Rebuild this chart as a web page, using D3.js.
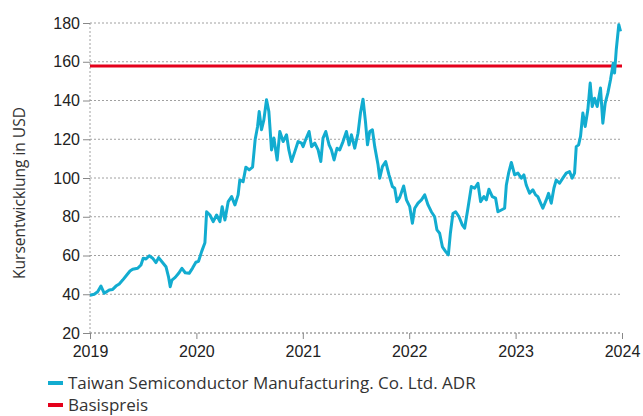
<!DOCTYPE html>
<html>
<head>
<meta charset="utf-8">
<script src="https://cdn.jsdelivr.net/npm/d3@7"></script>
<style>
	body { margin: 0; background: #fff; }
	svg { display: block; }
</style>
</head>
<body>
<svg id="chart"></svg>
<script>
// values (time as decimal year)
const years = [
	2019.000, 2019.040, 2019.072, 2019.103, 2019.134, 2019.181, 2019.213, 2019.244, 2019.275, 2019.307,
	2019.338, 2019.376, 2019.401, 2019.448, 2019.479, 2019.500, 2019.526, 2019.557, 2019.589, 2019.620,
	2019.645, 2019.676, 2019.714, 2019.739, 2019.754, 2019.770, 2019.801, 2019.833, 2019.864, 2019.895,
	2019.932, 2019.964, 2019.995, 2020.020, 2020.049, 2020.080, 2020.096, 2020.127, 2020.158, 2020.190,
	2020.221, 2020.242, 2020.268, 2020.299, 2020.331, 2020.362, 2020.392, 2020.408, 2020.439, 2020.465,
	2020.496, 2020.528, 2020.552, 2020.575, 2020.590, 2020.612, 2020.634, 2020.659, 2020.681, 2020.706,
	2020.728, 2020.759, 2020.784, 2020.815, 2020.847, 2020.869, 2020.894, 2020.925, 2020.956, 2020.988,
	2021.003, 2021.028, 2021.059, 2021.082, 2021.113, 2021.144, 2021.169, 2021.190, 2021.216, 2021.247,
	2021.269, 2021.294, 2021.322, 2021.347, 2021.378, 2021.410, 2021.435, 2021.457, 2021.488, 2021.519,
	2021.542, 2021.566, 2021.589, 2021.608, 2021.629, 2021.654, 2021.676, 2021.707, 2021.723, 2021.748,
	2021.779, 2021.810, 2021.842, 2021.864, 2021.885, 2021.911, 2021.948, 2021.974, 2022.005, 2022.030,
	2022.052, 2022.083, 2022.115, 2022.146, 2022.177, 2022.208, 2022.239, 2022.261, 2022.286, 2022.312,
	2022.343, 2022.368, 2022.387, 2022.411, 2022.437, 2022.468, 2022.500, 2022.521, 2022.552, 2022.584,
	2022.615, 2022.646, 2022.671, 2022.702, 2022.725, 2022.749, 2022.781, 2022.812, 2022.834, 2022.866,
	2022.897, 2022.913, 2022.934, 2022.960, 2022.991, 2023.022, 2023.054, 2023.078, 2023.100, 2023.131,
	2023.162, 2023.188, 2023.209, 2023.235, 2023.256, 2023.288, 2023.310, 2023.335, 2023.360, 2023.382,
	2023.413, 2023.444, 2023.476, 2023.507, 2023.532, 2023.554, 2023.570, 2023.592, 2023.610, 2023.632,
	2023.654, 2023.679, 2023.701, 2023.720, 2023.742, 2023.767, 2023.798, 2023.820, 2023.842, 2023.867,
	2023.892, 2023.918, 2023.930, 2023.946, 2023.970, 2023.986
];
const prices = [
	39.5, 40.0, 41.3, 44.2, 40.5, 42.2, 42.5, 44.2, 45.3, 47.3,
	49.4, 52.0, 52.9, 53.4, 55.1, 58.6, 58.2, 59.9, 58.6, 56.3,
	58.9, 56.8, 54.2, 48.7, 43.9, 47.3, 48.7, 50.8, 53.4, 51.1,
	50.8, 53.5, 56.5, 57.0, 62.0, 66.6, 82.6, 80.9, 77.5, 80.9,
	77.5, 85.2, 78.3, 87.8, 90.4, 86.1, 91.3, 99.0, 98.1, 105.6,
	104.2, 105.6, 119.7, 126.6, 134.3, 124.9, 130.0, 140.4, 134.3, 114.5,
	120.6, 109.3, 124.0, 118.8, 122.3, 114.5, 108.5, 113.6, 118.8, 118.0,
	116.2, 120.0, 124.0, 116.2, 118.0, 114.5, 108.5, 120.6, 124.0, 117.1,
	114.5, 109.3, 115.4, 114.5, 118.8, 124.0, 117.1, 122.3, 115.4, 123.1,
	133.5, 140.7, 129.1, 117.1, 124.0, 124.9, 116.2, 106.8, 99.9, 105.9,
	108.5, 101.6, 95.6, 94.7, 87.8, 90.0, 95.9, 88.7, 85.2, 76.6,
	84.4, 87.0, 88.7, 91.3, 86.1, 82.6, 80.0, 73.2, 71.5, 64.5,
	62.0, 60.3, 71.5, 81.7, 82.6, 80.0, 75.7, 74.1, 84.4, 95.6,
	94.7, 97.3, 87.8, 90.4, 88.7, 94.2, 90.4, 89.6, 82.6, 83.5,
	84.4, 96.4, 102.5, 108.0, 101.6, 102.5, 99.9, 101.6, 96.4, 92.1,
	93.9, 91.3, 90.4, 87.0, 84.4, 88.7, 92.1, 87.0, 94.7, 99.0,
	97.3, 99.9, 102.5, 103.3, 99.9, 102.5, 116.2, 117.1, 121.4, 133.5,
	126.6, 135.2, 149.0, 136.9, 141.2, 136.9, 146.4, 128.3, 138.7, 143.8,
	150.7, 159.3, 154.2, 166.2, 179.1, 175.7
];
const basisPrice = 157.8;
const xTicks = [2019, 2020, 2021, 2022, 2023, 2024];
const yTicks = [20, 40, 60, 80, 100, 120, 140, 160, 180];
const seriesNames = ["Taiwan Semiconductor Manufacturing. Co. Ltd. ADR", "Basispreis"];
const seriesColors = ["#12acd0", "#e4001b"];
const yTitle = "Kursentwicklung in USD";

const W = 643, H = 416;
const margin = { top: 23, right: 21, bottom: 83, left: 90 };
const plotW = W - margin.left - margin.right;
const plotH = H - margin.top - margin.bottom;

const svg = d3.select("#chart").attr("width", W).attr("height", H);

const x = d3.scaleLinear().domain([2019, 2024]).range([margin.left, margin.left + plotW]);
const y = d3.scaleLinear().domain([20, 180]).range([margin.top + plotH, margin.top]);

const tickFont = "'Liberation Sans', Arial, sans-serif";
const textFont = "'Open Sans', 'Noto Sans', sans-serif";

// horizontal grid (dashed)
svg.append("g")
	.selectAll("line")
	.data(yTicks)
	.join("line")
	.attr("x1", margin.left)
	.attr("x2", margin.left + plotW)
	.attr("y1", d => y(d))
	.attr("y2", d => y(d))
	.attr("stroke", "#a0a0a0")
	.attr("stroke-width", 1)
	.attr("stroke-dasharray", "2,2");

// left axis (dashed line + ticks)
const yAxis = svg.append("g")
	.attr("transform", "translate(" + margin.left + ",0)")
	.call(d3.axisLeft(y).tickValues(yTicks).tickSize(7).tickPadding(3).tickFormat(d3.format("d")));
yAxis.select(".domain").attr("stroke", "#a0a0a0").attr("stroke-dasharray", "2,2").attr("d", "M0," + y(20) + "V" + y(180));
yAxis.selectAll(".tick line").attr("stroke", "#888");
yAxis.selectAll("text").attr("font-family", tickFont).attr("font-size", 16).attr("fill", "#222");

// bottom axis
const xAxis = svg.append("g")
	.attr("transform", "translate(0," + y(20) + ")")
	.call(d3.axisBottom(x).tickValues(xTicks).tickSize(6).tickPadding(7).tickFormat(d3.format("d")));
xAxis.select(".domain").attr("stroke", "#a0a0a0").attr("stroke-dasharray", "2,2").attr("d", "M" + margin.left + ",0H" + (margin.left + plotW));
xAxis.selectAll(".tick line").attr("stroke", "#888");
xAxis.selectAll("text").attr("font-family", tickFont).attr("font-size", 16).attr("fill", "#222");

// y axis title
svg.append("text")
	.attr("transform", "translate(25," + (margin.top + plotH / 2 + 15) + ") rotate(-90)")
	.attr("text-anchor", "middle")
	.attr("font-family", textFont)
	.attr("font-size", 15.5)
	.attr("fill", "#333")
	.text(yTitle);

// basis price line
svg.append("line")
	.attr("x1", x(2019))
	.attr("x2", x(2024))
	.attr("y1", y(basisPrice))
	.attr("y2", y(basisPrice))
	.attr("stroke", seriesColors[1])
	.attr("stroke-width", 3);

// price line
const line = d3.line()
	.x((d, i) => x(years[i]))
	.y(d => y(d));

svg.append("path")
	.datum(prices)
	.attr("fill", "none")
	.attr("stroke", seriesColors[0])
	.attr("stroke-width", 3)
	.attr("stroke-linejoin", "round")
	.attr("d", line);

// legend
const legend = svg.append("g").attr("transform", "translate(48,383)");
seriesNames.forEach(function(name, i) {
	const row = legend.append("g").attr("transform", "translate(0," + (i * 22) + ")");
	row.append("rect")
		.attr("x", 0).attr("y", -2)
		.attr("width", 15).attr("height", 4)
		.attr("fill", seriesColors[i]);
	row.append("text")
		.attr("x", 20)
		.attr("dy", "0.35em")
		.attr("font-family", textFont)
		.attr("font-size", 17)
		.attr("fill", "#333")
		.text(name);
});
</script>
</body>
</html>
